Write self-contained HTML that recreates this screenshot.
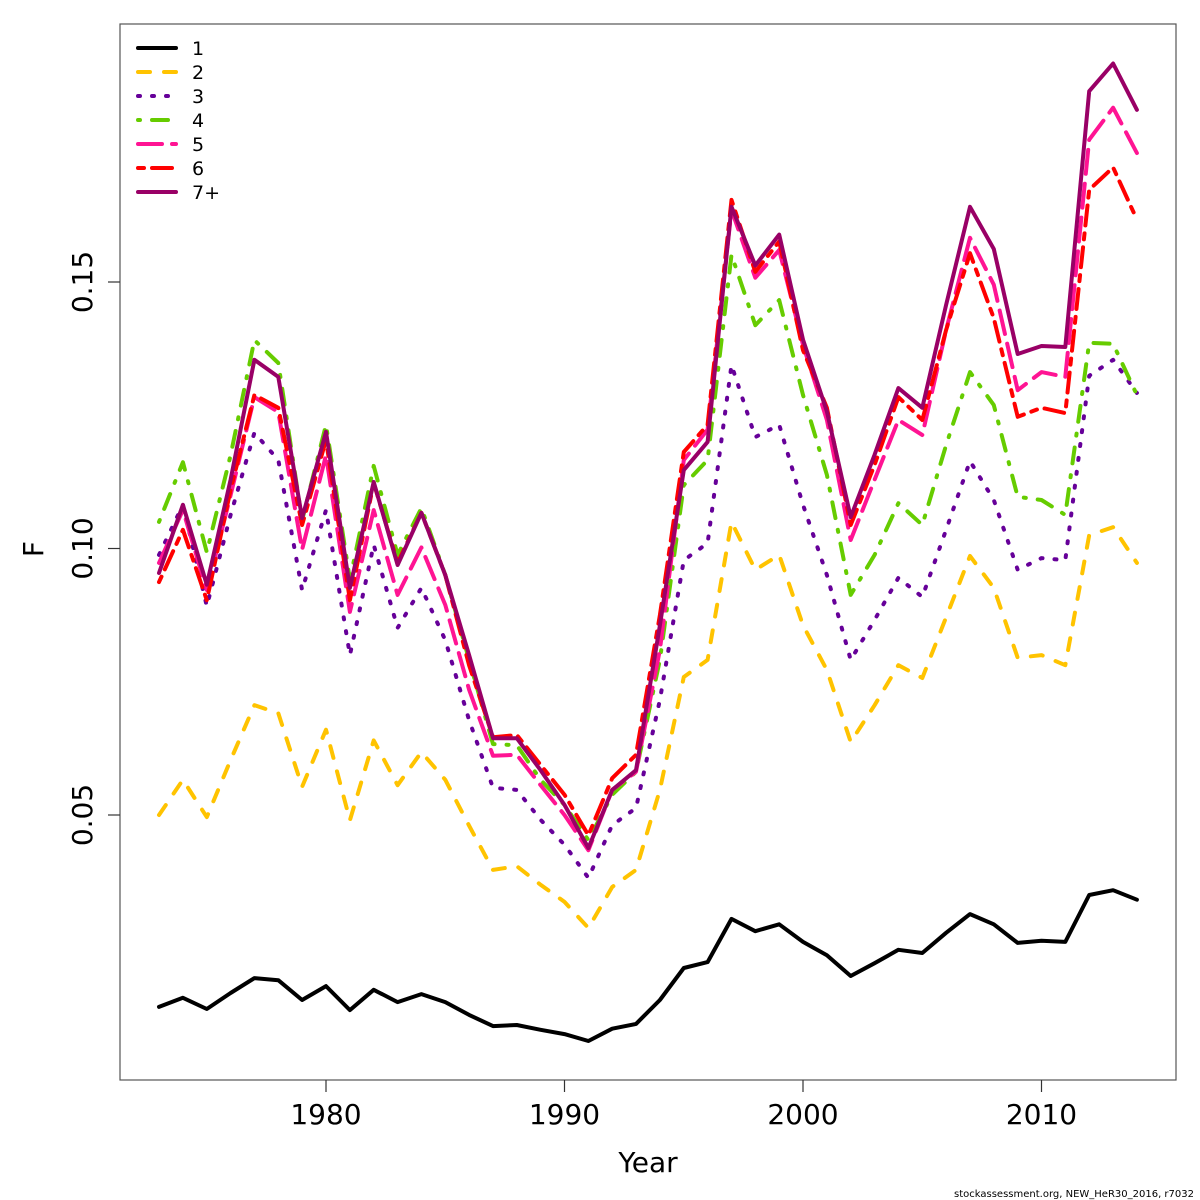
<!DOCTYPE html>
<html><head><meta charset="utf-8"><style>
body{margin:0;background:#fff}
svg{display:block;font-family:"DejaVu Sans","Liberation Sans",sans-serif}
</style></head><body>
<svg id="chart" width="1200" height="1200" viewBox="0 0 1200 1200">
<rect x="0" y="0" width="1200" height="1200" fill="#fff"/>
<rect x="120" y="24" width="1056" height="1056" fill="none" stroke="#555" stroke-width="1.2"/>
<g id="axes"></g>
<g id="series"></g>
<g id="legend"></g>
<text x="35" y="549" font-size="28" text-anchor="middle" transform="rotate(-90 35 549)" dominant-baseline="middle">F</text>
<text x="648" y="1172" font-size="28" text-anchor="middle">Year</text>
<text x="1194" y="1197" font-size="10" text-anchor="end">stockassessment.org, NEW_HeR30_2016, r7032</text>
</svg>
<script>
const years = [];
for (let y = 1973; y <= 2014; y++) years.push(y);
const seriesNames = ["1","2","3","4","5","6","7+"];
const age1 = [0.0140,0.0157,0.0136,0.0166,0.0194,0.0190,0.0153,0.0179,0.0134,0.0172,0.0149,0.0164,0.0149,0.0125,0.0104,0.0106,0.0097,0.0089,0.0076,0.0099,0.0108,0.0153,0.0213,0.0224,0.0305,0.0282,0.0295,0.0262,0.0237,0.0198,0.0222,0.0247,0.0241,0.0279,0.0314,0.0295,0.0260,0.0264,0.0262,0.0350,0.0359,0.0341];
const age2 = [0.0500,0.0566,0.0496,0.0603,0.0706,0.0691,0.0553,0.0660,0.0490,0.0640,0.0556,0.0618,0.0566,0.0480,0.0397,0.0404,0.0369,0.0337,0.0288,0.0365,0.0397,0.0547,0.0759,0.0791,0.1050,0.0960,0.0988,0.0856,0.0772,0.0637,0.0706,0.0781,0.0757,0.0871,0.0986,0.0926,0.0795,0.0800,0.0781,0.1025,0.1040,0.0973];
const age3 = [0.0988,0.1082,0.0892,0.1063,0.1217,0.1166,0.0922,0.1072,0.0800,0.1007,0.0851,0.0926,0.0828,0.0678,0.0551,0.0547,0.0491,0.0444,0.0382,0.0481,0.0513,0.0716,0.0978,0.1010,0.1344,0.1209,0.1232,0.1082,0.0950,0.0791,0.0866,0.0945,0.0909,0.1035,0.1164,0.1091,0.0960,0.0982,0.0978,0.1324,0.1354,0.1292];
const age4 = [0.1050,0.1162,0.0993,0.1175,0.1391,0.1348,0.1053,0.1232,0.0941,0.1155,0.0988,0.1076,0.0950,0.0791,0.0633,0.0631,0.0566,0.0519,0.0453,0.0538,0.0581,0.0791,0.1119,0.1166,0.1551,0.1419,0.1466,0.1288,0.1138,0.0913,0.0988,0.1085,0.1044,0.1194,0.1331,0.1269,0.1097,0.1091,0.1063,0.1386,0.1384,0.1288];
const age5 = [0.0973,0.1072,0.0922,0.1100,0.1284,0.1256,0.0998,0.1175,0.0881,0.1072,0.0913,0.1002,0.0894,0.0735,0.0611,0.0613,0.0556,0.0500,0.0434,0.0547,0.0581,0.0810,0.1166,0.1223,0.1635,0.1508,0.1560,0.1382,0.1241,0.1016,0.1129,0.1241,0.1213,0.1410,0.1583,0.1495,0.1297,0.1331,0.1322,0.1767,0.1827,0.1742];
const age6 = [0.0937,0.1035,0.0903,0.1110,0.1288,0.1264,0.1044,0.1204,0.0903,0.1123,0.0973,0.1067,0.0950,0.0781,0.0646,0.0650,0.0594,0.0538,0.0462,0.0569,0.0613,0.0875,0.1181,0.1232,0.1654,0.1519,0.1576,0.1372,0.1264,0.1044,0.1157,0.1284,0.1241,0.1410,0.1554,0.1432,0.1247,0.1264,0.1254,0.1673,0.1715,0.1617];
const age7 = [0.0954,0.1082,0.0932,0.1129,0.1354,0.1322,0.1057,0.1219,0.0926,0.1125,0.0969,0.1067,0.0950,0.0800,0.0644,0.0644,0.0584,0.0519,0.0438,0.0547,0.0584,0.0856,0.1147,0.1200,0.1641,0.1531,0.1589,0.1392,0.1257,0.1059,0.1176,0.1301,0.1264,0.1457,0.1641,0.1562,0.1365,0.1380,0.1378,0.1858,0.1910,0.1823];
const xTicks = [1980,1990,2000,2010];
const yTicks = [0.05,0.10,0.15];
const yTickLabels = ["0.05","0.10","0.15"];

const NS = "http://www.w3.org/2000/svg";
function xs(v){ return 326 + (v - 1980) * 23.85; }
function ys(v){ return 815 - (v - 0.05) * 5330; }
function mk(tag, attrs, parent){ const e = document.createElementNS(NS, tag); for (const k in attrs) e.setAttribute(k, attrs[k]); parent.appendChild(e); return e; }

const axes = document.getElementById("axes");
xTicks.forEach(t => {
  const l = mk("line", {x1: xs(t), x2: xs(t), y1: 1080, y2: 1092, stroke: "#333", "stroke-width": 1.2}, axes);
  
  
  const tx = mk("text", {x: xs(t), y: 1124, "font-size": 28, "text-anchor": "middle"}, axes);
  tx.textContent = t;
  
  
});
yTicks.forEach((t, i) => {
  const l = mk("line", {x1: 108, x2: 120, y1: ys(t), y2: ys(t), stroke: "#333", "stroke-width": 1.2}, axes);
  
  
  const tx = mk("text", {x: 92, y: ys(t), "font-size": 28, "text-anchor": "middle", transform: `rotate(-90 92 ${ys(t)})`}, axes);
  tx.textContent = yTickLabels[i];
  
  
});

const allSeries = [age1, age2, age3, age4, age5, age6, age7];
const colors = ["#000000","#FFC300","#660099","#66CC00","#FF1493","#FF0000","#990066"];
const dashes = ["", "12 14", "2 12", "2 12 16 12", "24 10", "6 8 20 8", ""];
const g = document.getElementById("series");
allSeries.forEach((s, i) => {
  const d = s.map((v, j) => (j ? "L" : "M") + xs(years[j]).toFixed(1) + "," + ys(v).toFixed(1)).join(" ");
  const p = mk("path", {d: d, fill: "none", stroke: colors[i], "stroke-width": 4, "stroke-linecap": "round", "stroke-linejoin": "round"}, g);
  if (dashes[i]) p.setAttribute("stroke-dasharray", dashes[i]);
  
  
});

const lg = document.getElementById("legend");


seriesNames.forEach((n, i) => {
  const y = 48 + i * 24;
  const l = mk("line", {x1: 138, x2: 176, y1: y, y2: y, stroke: colors[i], "stroke-width": 4, "stroke-linecap": "round"}, lg);
  if (dashes[i]) l.setAttribute("stroke-dasharray", dashes[i]);
  
  
  const t = mk("text", {x: 192, y: y + 7, "font-size": 19}, lg);
  t.textContent = n;
  
  
});
</script>
</body></html>
